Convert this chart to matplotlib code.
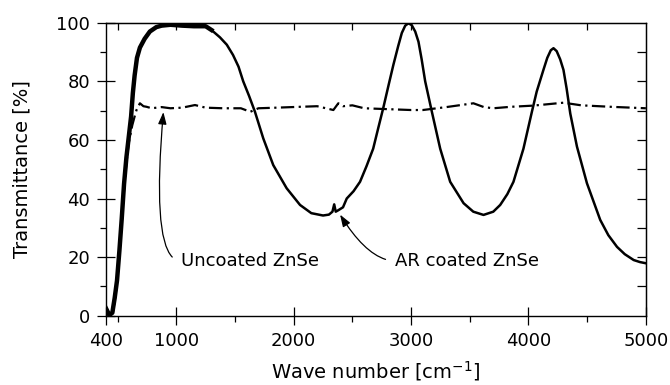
import numpy as np
import matplotlib
matplotlib.use("Agg")
import matplotlib.pyplot as plt
from matplotlib.ticker import MultipleLocator, FixedLocator

# AR coated ZnSe (solid)
wn_ar = [400, 430, 455, 475, 495, 515, 535, 555, 575, 595, 615, 630, 645, 665, 690,
         730, 775, 830, 875, 950, 1050, 1150, 1250, 1300, 1372, 1430, 1483, 1530,
         1570, 1620, 1670, 1741, 1826, 1940, 2054, 2150, 2250, 2300, 2330, 2345,
         2358, 2380, 2420, 2452, 2510, 2565, 2620, 2677, 2720, 2763, 2810, 2849,
         2890, 2921, 2950, 2977, 3005, 3035, 3063, 3090, 3120, 3177, 3248, 3333,
         3447, 3530, 3617, 3700, 3759, 3820, 3872, 3957, 4029, 4070, 4128, 4160,
         4190, 4213, 4240, 4270, 4298, 4325, 4356, 4413, 4498, 4611, 4680, 4754,
         4820, 4896, 4950, 5000]
tr_ar = [2.6, 0.2, 1.0, 6, 12, 22, 33, 45, 54, 61, 68, 76, 82, 88, 91.5,
         94.5, 97, 98.5, 99, 99.3, 99, 98.8, 98.8, 97.5, 95, 92.5, 89, 85,
         80, 75, 69.6, 60.5, 51.4, 43.5, 37.8, 35, 34.2, 34.5, 35.5, 38.0,
         35.5, 36, 37, 40, 42.5, 45.7, 51, 57, 64, 70.9, 79, 85.6,
         92, 96.5, 99, 99.8, 99.2, 97, 93.5, 87.5, 80, 69.6, 57, 45.7,
         38.4, 35.5, 34.4, 35.5, 37.8, 41.5, 45.7, 57, 69.6, 76.5, 84, 88,
         90.6, 91.3, 90.3, 87.5, 83.9, 77.5, 69, 57.7, 45.2, 32.7, 27.5, 23.5,
         21, 19, 18.3, 17.9]

# Uncoated ZnSe (dash-dot)
wn_un = [400, 430, 460, 475, 495, 515, 535, 555, 575, 595, 610, 625, 645, 661, 690,
         720, 747, 790, 875, 950, 1050, 1159, 1250, 1400, 1550, 1630, 1700, 1850,
         2054, 2200, 2338, 2380, 2420, 2500, 2600, 2800, 3000, 3100, 3300, 3531,
         3620, 3700, 3850, 4040, 4298, 4450, 4700, 5000]
tr_un = [1.5, 0, 1, 5, 11, 21, 32, 43, 52, 59, 62, 65, 68, 70.2, 72.5,
         71.5, 71.3, 70.8, 71.2, 70.8, 71, 71.9, 71, 70.8, 70.8, 69.6, 70.8, 71,
         71.3, 71.5, 70.2, 72.5, 71.5, 71.8, 70.8, 70.5, 70.2, 70.2, 71.2, 72.5,
         71.2, 70.8, 71.3, 71.7, 72.7, 71.8, 71.3, 70.8]

x_major = [400, 1000, 2000, 3000, 4000, 5000]
x_minor = [500, 1500, 2500, 3500, 4500]

fig = plt.figure(figsize=(6.7, 3.85), dpi=100)
ax = fig.add_axes([0.158, 0.18, 0.806, 0.761])

wn_ar = np.array(wn_ar)
tr_ar = np.array(tr_ar)
ax.plot(wn_ar, tr_ar, color='k', lw=1.8, solid_joinstyle='round')
# noisy part of the spectrum looks thicker
noisy = wn_ar <= 1350
ax.plot(wn_ar[noisy], tr_ar[noisy], color='k', lw=3.2, solid_joinstyle='round')
ax.plot(wn_un, tr_un, color='k', lw=1.6, dashes=(6, 2, 1, 2))

ax.set_xlim(400, 5000)
ax.set_ylim(0, 100)
ax.xaxis.set_major_locator(FixedLocator(x_major))
ax.xaxis.set_minor_locator(FixedLocator(x_minor))
ax.yaxis.set_major_locator(MultipleLocator(20))
ax.yaxis.set_minor_locator(MultipleLocator(10))
ax.tick_params(which='major', direction='inout', length=13, width=0.9,
               labelsize=13, pad=5, top=False, right=False)
ax.tick_params(which='minor', direction='out', length=4.3, width=0.9,
               top=False, right=False)
for sp in ax.spines.values():
    sp.set_linewidth(1.0)

# inward ticks on top and right
secx = ax.secondary_xaxis('top')
secx.set_xticks(np.arange(500, 5000, 500))
secx.tick_params(direction='in', length=5, width=0.9, labeltop=False)
secy = ax.secondary_yaxis('right')
secy.set_yticks(np.arange(10, 100, 10))
secy.tick_params(direction='in', length=6.5, width=0.9, labelright=False)

ax.set_xlabel(r'Wave number [cm$^{-1}$]', fontsize=14, labelpad=7)
ax.set_ylabel('Transmittance [%]', fontsize=14, labelpad=18)

arrow = dict(arrowstyle='-|>,head_length=0.6,head_width=0.21', color='k',
             lw=0.9, mutation_scale=12, relpos=(0, 0.5), shrinkA=5, shrinkB=0)
ax.annotate('Uncoated ZnSe', xy=(890, 69.5), xytext=(1040, 18.7),
            ha='left', va='center', fontsize=13,
            arrowprops=dict(arrow, connectionstyle='angle3,angleA=0,angleB=85'))
ax.annotate('AR coated ZnSe', xy=(2395, 34.5), xytext=(2864, 18.7),
            ha='left', va='center', fontsize=13,
            arrowprops=dict(arrow, connectionstyle='angle3,angleA=0,angleB=-58'))

fig.savefig('out.png', dpi=100)
